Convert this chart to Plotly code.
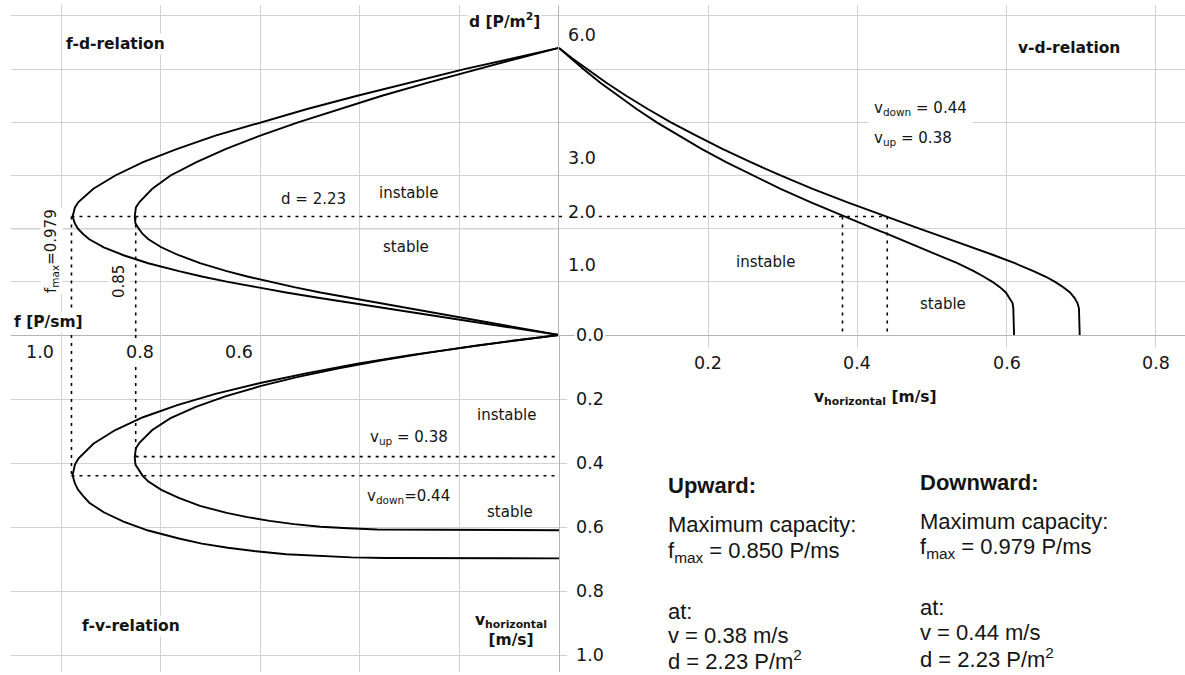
import plotly.graph_objects as go

# ---------------- data ----------------
DENSITY = [0.0, 0.1, 0.2, 0.3, 0.4, 0.5, 0.6, 0.7, 0.8, 0.9, 1.0, 1.1, 1.2, 1.35, 1.5,
           1.65, 1.8, 1.9, 2.0, 2.1, 2.23, 2.4, 2.5, 2.75, 3.0, 3.25, 3.5, 3.75, 4.0,
           4.25, 4.5, 4.75, 5.0, 5.2, 5.4]
V_UP = [0.610, 0.610, 0.610, 0.610, 0.610, 0.609, 0.608, 0.604, 0.599, 0.591, 0.581,
        0.569, 0.556, 0.534, 0.509, 0.484, 0.458, 0.440, 0.422, 0.405, 0.382, 0.354,
        0.337, 0.297, 0.260, 0.224, 0.191, 0.160, 0.131, 0.104, 0.079, 0.055, 0.033,
        0.016, 0.0]
V_DOWN = [0.698, 0.698, 0.698, 0.698, 0.698, 0.697, 0.695, 0.691, 0.685, 0.676, 0.665,
          0.652, 0.636, 0.611, 0.583, 0.554, 0.524, 0.503, 0.483, 0.463, 0.438, 0.405,
          0.386, 0.340, 0.297, 0.257, 0.219, 0.184, 0.150, 0.119, 0.090, 0.063, 0.038,
          0.018, 0.0]

D_OPT = 2.23
V_OPT_UP = 0.38
V_OPT_DOWN = 0.44
F_MAX_UP = 0.850
F_MAX_DOWN = 0.979

D_GRID = [1, 2, 3, 4, 5, 6]
D_TICKS = [0.0, 1.0, 2.0, 3.0, 6.0]
D_TICK_TEXT = ["0.0", "1.0", "2.0", "3.0", "6.0"]
F_GRID = [0.2, 0.4, 0.6, 0.8, 1.0]
F_TICKS = [1.0, 0.8, 0.6]
F_TICK_TEXT = ["1.0", "0.8", "0.6"]
V_RIGHT_TICKS = [0.2, 0.4, 0.6, 0.8]
V_RIGHT_TEXT = ["0.2", "0.4", "0.6", "0.8"]
V_BOTTOM_TICKS = [0.2, 0.4, 0.6, 0.8, 1.0]
V_BOTTOM_TEXT = ["0.2", "0.4", "0.6", "0.8", "1.0"]

# flow = velocity * density
F_UP = [round(d * v, 4) for d, v in zip(DENSITY, V_UP)]
F_DOWN = [round(d * v, 4) for d, v in zip(DENSITY, V_DOWN)]

# ---------------- layout geometry (pixels) ----------------
W, H = 1185, 675
AX_X, AX_Y = 559, 335
LEFT, TOP, BOTTOM = 11, 5, 672
PX_F, PX_VR, PX_D, PX_VB = 498.0, 746.0, 53.17, 320.0
F_LEFT = (AX_X - LEFT) / PX_F

GRID = "#d2d2d2"
AXIS = "#b4b4b4"
INK = "#141414"
CF = "DejaVu Sans"
IF = "Liberation Sans, Arial"

fig = go.Figure()

curve = dict(color="black", width=1.9)
fig.add_trace(go.Scatter(x=F_UP, y=DENSITY, mode="lines", line=curve, xaxis="x", yaxis="y"))
fig.add_trace(go.Scatter(x=F_DOWN, y=DENSITY, mode="lines", line=curve, xaxis="x", yaxis="y"))
fig.add_trace(go.Scatter(x=V_UP, y=DENSITY, mode="lines", line=curve, xaxis="x2", yaxis="y"))
fig.add_trace(go.Scatter(x=V_DOWN, y=DENSITY, mode="lines", line=curve, xaxis="x2", yaxis="y"))
fig.add_trace(go.Scatter(x=F_UP, y=V_UP, mode="lines", line=curve, xaxis="x", yaxis="y2"))
fig.add_trace(go.Scatter(x=F_DOWN, y=V_DOWN, mode="lines", line=curve, xaxis="x", yaxis="y2"))

dot = dict(color="black", width=1.6, dash="3px,5px")
dotted = [
    ([F_MAX_DOWN, 0], [D_OPT, D_OPT], "x", "y"),
    ([0, V_OPT_DOWN], [D_OPT, D_OPT], "x2", "y"),
    ([F_MAX_DOWN, F_MAX_DOWN], [D_OPT, 0], "x", "y"),
    ([F_MAX_UP, F_MAX_UP], [D_OPT, 0], "x", "y"),
    ([V_OPT_UP, V_OPT_UP], [D_OPT, 0], "x2", "y"),
    ([V_OPT_DOWN, V_OPT_DOWN], [D_OPT, 0], "x2", "y"),
    ([F_MAX_DOWN, F_MAX_DOWN], [0, V_OPT_DOWN], "x", "y2"),
    ([F_MAX_UP, F_MAX_UP], [0, V_OPT_UP], "x", "y2"),
    ([F_MAX_UP, 0], [V_OPT_UP, V_OPT_UP], "x", "y2"),
    ([F_MAX_DOWN, 0], [V_OPT_DOWN, V_OPT_DOWN], "x", "y2"),
]
for xs, ys, xa, ya in dotted:
    fig.add_trace(go.Scatter(x=xs, y=ys, mode="lines", line=dot, xaxis=xa, yaxis=ya))

fig.update_traces(showlegend=False, hoverinfo="skip")

# ---------------- annotations ----------------
anns = []


def px(x):
    return x / W


def py(y):
    return 1 - y / H


def txt(text, x, y, xref="paper", yref="paper", size=15, family=CF, xanchor="center",
        yanchor="middle", angle=0, xshift=0, yshift=0, pad=1, bg="white"):
    anns.append(dict(text=text, x=x, y=y, xref=xref, yref=yref, showarrow=False,
                     font=dict(family=family, size=size, color=INK), xanchor=xanchor,
                     yanchor=yanchor, textangle=angle, xshift=xshift, yshift=yshift,
                     borderpad=pad, bgcolor=bg))


TICK = 17.5
# d tick labels (right of the shared axis)
for v, lab in zip(D_TICKS, D_TICK_TEXT):
    ys = 0 if v == 0 else (-19 if v == 6.0 else 17)
    xs = 15 if v == 0 else 7
    txt(lab, 0, v, xref="x2", yref="y", size=TICK, xanchor="left", xshift=xs, yshift=ys)
# f tick labels
for v, lab in zip(F_TICKS, F_TICK_TEXT):
    txt(lab, v, 0, xref="x", yref="y", size=TICK, xshift=-21, yshift=-17)
# v tick labels, right panel
for v, lab in zip(V_RIGHT_TICKS, V_RIGHT_TEXT):
    txt(lab, v, 0, xref="x2", yref="y", size=TICK, yshift=-28)
# v tick labels, bottom panel
for v, lab in zip(V_BOTTOM_TICKS, V_BOTTOM_TEXT):
    txt(lab, 0, v, xref="x", yref="y2", size=TICK, xanchor="left", xshift=15)

# axis titles
txt("<b>d [P/m<sup>2</sup>]</b>", px(504), py(20), size=15.5)
txt("<b>f [P/sm]</b>", px(12), py(322), size=15.5, xanchor="left")
txt("<b>v<sub>horizontal</sub> [m/s]</b>", px(875), py(398), size=15.5)
txt("<b>v<sub>horizontal</sub><br>[m/s]</b>", px(511), py(630), size=15.5)

# panel titles
txt("<b>f-d-relation</b>", px(115), py(44), size=15.5)
txt("<b>v-d-relation</b>", px(1069), py(48), size=15.5)
txt("<b>f-v-relation</b>", px(131), py(626), size=15.5)

# region labels
txt("instable", px(408), py(193))
txt("stable", px(406), py(247))
txt("d = %.2f" % D_OPT, px(313), py(199))
txt("f<sub>max</sub>=%.3f" % F_MAX_DOWN, px(51), py(251), angle=-90)
txt("%.2f" % F_MAX_UP, px(119), py(282), angle=-90)

txt("v<sub>down</sub> = %.2f" % V_OPT_DOWN, px(868), py(109), xanchor="left", pad=5)
txt("v<sub>up</sub> = %.2f" % V_OPT_UP, px(868), py(138), xanchor="left", pad=5)
txt("instable", px(765), py(262))
txt("stable", px(943), py(304))

txt("instable", px(506), py(415))
txt("v<sub>up</sub> = %.2f" % V_OPT_UP, px(409), py(437))
txt("v<sub>down</sub>=%.2f" % V_OPT_DOWN, px(408), py(496))
txt("stable", px(510), py(512))

# info block
IS = 22
for colx, head, fmax, vv, yy in [(666, "Upward:", F_MAX_UP, V_OPT_UP, [485, 524, 552, 611, 635, 660]),
                                  (918, "Downward:", F_MAX_DOWN, V_OPT_DOWN, [483, 521, 548, 607, 632, 658])]:
    lines = ["<b>%s</b>" % head, "Maximum capacity:", "f<sub>max</sub> = %.3f P/ms" % fmax,
             "at:", "v = %.2f m/s" % vv, "d = %.2f P/m<sup>2</sup>" % D_OPT]
    for t, y in zip(lines, yy):
        txt(t, px(colx), py(y), size=IS, family=IF, xanchor="left", bg="rgba(0,0,0,0)")

# ---------------- axes ----------------
common = dict(showgrid=True, gridcolor=GRID, gridwidth=1, zeroline=False,
              showticklabels=False, tickmode="array", fixedrange=True)

fig.update_layout(
    width=W, height=H, margin=dict(l=0, r=0, t=0, b=0),
    paper_bgcolor="white", plot_bgcolor="white", showlegend=False,
    xaxis=dict(domain=[LEFT / W, AX_X / W], range=[F_LEFT, 0],
               tickvals=F_GRID, anchor="y", side="bottom", showline=True,
               linecolor=AXIS, linewidth=1, ticks="", **common),
    xaxis2=dict(domain=[AX_X / W, 1], range=[0, (W - AX_X) / PX_VR],
                tickvals=V_RIGHT_TICKS, anchor="y", side="bottom", showline=True,
                linecolor=AXIS, linewidth=1, ticks="outside", ticklen=12,
                tickcolor=GRID, **common),
    yaxis=dict(domain=[1 - AX_Y / H, 1 - TOP / H], range=[0, (AX_Y - TOP) / PX_D],
               tickvals=D_GRID, anchor="x2", side="left", showline=True,
               linecolor=AXIS, linewidth=1, ticks="", **common),
    yaxis2=dict(domain=[1 - BOTTOM / H, 1 - AX_Y / H],
                range=[(BOTTOM - AX_Y) / PX_VB, 0], tickvals=V_BOTTOM_TICKS,
                anchor="x", side="right", showline=True, linecolor=AXIS, linewidth=1,
                ticks="outside", ticklen=7, tickcolor=GRID, **common),
    annotations=anns,
    shapes=[dict(type="line", xref="x", x0=F_LEFT, x1=0, yref="y", y0=2.0, y1=2.0,
                 line=dict(color="#7a7a7a", width=1), layer="below")],
)

fig.write_html("out.html", config={"displayModeBar": False})
